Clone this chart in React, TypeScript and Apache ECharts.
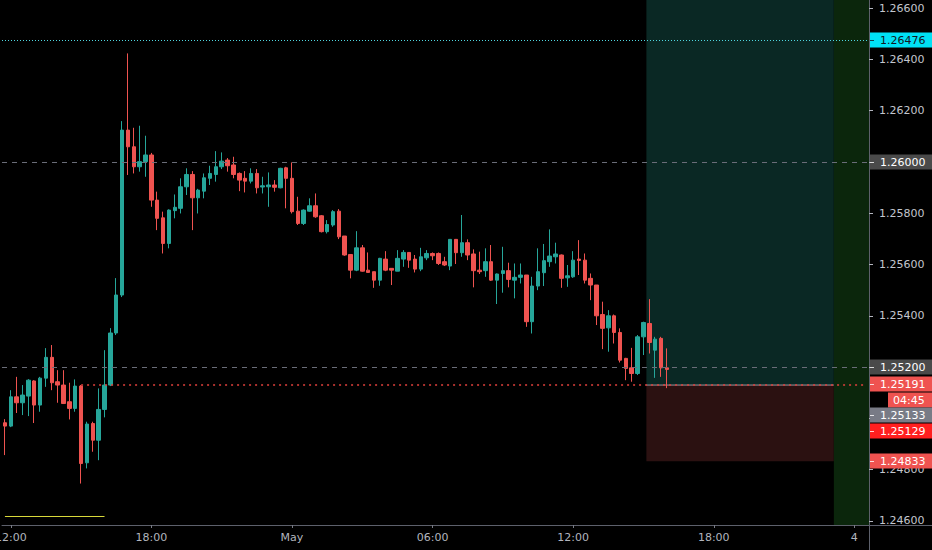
import React, { useEffect, useRef } from "react";
import * as echarts from "echarts";

// ---- data (15-minute GBP/USD candles) ----
const opens = [
  1.24983, 1.2497, 1.25084, 1.25061, 1.25087, 1.25146, 1.25052, 1.25157, 1.25238, 1.25143,
  1.2513, 1.25065, 1.25039, 1.25126, 1.24827, 1.2498, 1.24915, 1.25035, 1.2513, 1.25333,
  1.25481, 1.26124, 1.26059, 1.25981, 1.26001, 1.26027, 1.25851, 1.25782, 1.25682, 1.2581,
  1.25819, 1.25903, 1.25951, 1.2586, 1.25886, 1.25936, 1.25951, 1.25981, 1.26007, 1.25988,
  1.25955, 1.25936, 1.25925, 1.25955, 1.25902, 1.25903, 1.2591, 1.25899, 1.25977, 1.25936,
  1.25808, 1.2576, 1.25808, 1.25829, 1.2579, 1.25728, 1.25754, 1.25808, 1.25711, 1.25639,
  1.25578, 1.25665, 1.25578, 1.25572, 1.25539, 1.25621, 1.25585, 1.25574, 1.25621, 1.25647,
  1.25621, 1.25582, 1.25626, 1.25643, 1.25643, 1.25611, 1.25594, 1.25698, 1.25646, 1.25685,
  1.25641, 1.25578, 1.25576, 1.25611, 1.25539, 1.25565, 1.25576, 1.25539, 1.2555, 1.25559,
  1.25377, 1.25516, 1.25568, 1.25611, 1.2563, 1.25637, 1.25548, 1.25552, 1.25621, 1.25617,
  1.25546, 1.2552, 1.25405, 1.25353, 1.254, 1.25335, 1.25234, 1.25197, 1.25175, 1.25318,
  1.2537, 1.25266, 1.25312, 1.25197,
];
const closes = [
  1.2497, 1.25084, 1.25061, 1.25091, 1.25149, 1.25052, 1.25157, 1.25238, 1.25139, 1.2513,
  1.25058, 1.25039, 1.25126, 1.24824, 1.24978, 1.24915, 1.25035, 1.2513, 1.25333, 1.25481,
  1.26124, 1.26059, 1.25981, 1.26001, 1.26027, 1.25851, 1.2578, 1.25682, 1.25812, 1.25823,
  1.25903, 1.25951, 1.2586, 1.2589, 1.25938, 1.25955, 1.25981, 1.26003, 1.25985, 1.25951,
  1.25929, 1.25925, 1.25955, 1.25899, 1.25907, 1.2591, 1.25901, 1.25975, 1.25936, 1.25806,
  1.2576, 1.25812, 1.25829, 1.25786, 1.25728, 1.25756, 1.25806, 1.25708, 1.25637, 1.25578,
  1.25665, 1.25574, 1.25569, 1.25539, 1.25624, 1.25578, 1.25578, 1.25624, 1.25647, 1.25617,
  1.25582, 1.2563, 1.25643, 1.25634, 1.25604, 1.25598, 1.25698, 1.25646, 1.25685, 1.25637,
  1.25576, 1.25572, 1.25611, 1.25539, 1.25563, 1.25576, 1.25542, 1.2555, 1.25559, 1.25377,
  1.25516, 1.25572, 1.25615, 1.25633, 1.25641, 1.25546, 1.25556, 1.25617, 1.25616, 1.25539,
  1.2552, 1.254, 1.25351, 1.254, 1.25335, 1.25227, 1.25195, 1.25175, 1.25318, 1.25374,
  1.25296, 1.25309, 1.25197, 1.25191,
];
const highs = [
  1.24997, 1.2511, 1.25162, 1.2513, 1.25153, 1.25149, 1.25162, 1.25274, 1.25286, 1.25188,
  1.25188, 1.25139, 1.25152, 1.2513, 1.24987, 1.24987, 1.25117, 1.25266, 1.25352, 1.25547,
  1.26159, 1.26423, 1.26133, 1.26141, 1.26102, 1.26035, 1.25884, 1.25806, 1.25815, 1.25873,
  1.25936, 1.25975, 1.25964, 1.25895, 1.25955, 1.25985, 1.26042, 1.26037, 1.26015, 1.2602,
  1.25959, 1.25964, 1.25975, 1.25972, 1.25942, 1.25959, 1.25929, 1.25977, 1.25981, 1.25998,
  1.25864, 1.25815, 1.25858, 1.25877, 1.25793, 1.25773, 1.25812, 1.25816, 1.25711, 1.25639,
  1.2573, 1.25676, 1.25647, 1.25572, 1.25626, 1.25652, 1.25586, 1.25656, 1.25656, 1.25647,
  1.25637, 1.25665, 1.25656, 1.25647, 1.25647, 1.2563, 1.25698, 1.25698, 1.25793, 1.25698,
  1.25659, 1.2565, 1.25663, 1.25676, 1.25565, 1.25669, 1.25607, 1.25604, 1.25604, 1.25559,
  1.25552, 1.25663, 1.2568, 1.25737, 1.25685, 1.25639, 1.25598, 1.25652, 1.25695, 1.25643,
  1.25565, 1.2552, 1.25455, 1.25422, 1.25405, 1.25351, 1.25236, 1.25275, 1.25325, 1.25377,
  1.25465, 1.25318, 1.25318, 1.25273,
];
const lows = [
  1.24857, 1.24966, 1.25021, 1.25013, 1.25009, 1.24982, 1.25026, 1.25123, 1.2511, 1.25061,
  1.25056, 1.24996, 1.25026, 1.24746, 1.24805, 1.2487, 1.24837, 1.25004, 1.25126, 1.25325,
  1.25473, 1.25949, 1.25955, 1.25962, 1.25942, 1.25825, 1.25734, 1.25643, 1.25663, 1.2578,
  1.25799, 1.25871, 1.25734, 1.25799, 1.25858, 1.2591, 1.25923, 1.25972, 1.25962, 1.25936,
  1.25886, 1.25881, 1.25916, 1.25877, 1.25877, 1.25825, 1.25884, 1.25897, 1.25819, 1.25799,
  1.25754, 1.25754, 1.25806, 1.25782, 1.25725, 1.25721, 1.25747, 1.25699, 1.25634, 1.25546,
  1.25574, 1.25572, 1.25569, 1.25509, 1.25517, 1.25574, 1.2552, 1.25574, 1.25591, 1.25587,
  1.25569, 1.25574, 1.25617, 1.25617, 1.25598, 1.25594, 1.25578, 1.25602, 1.2563, 1.25617,
  1.25511, 1.25563, 1.25552, 1.25536, 1.25446, 1.2549, 1.25511, 1.25468, 1.25526, 1.25357,
  1.25331, 1.255, 1.25516, 1.25591, 1.25604, 1.25509, 1.25513, 1.25548, 1.25559, 1.25526,
  1.25461, 1.25364, 1.2527, 1.2526, 1.25292, 1.25218, 1.25149, 1.25143, 1.25169, 1.25247,
  1.25253, 1.25158, 1.25162, 1.25118,
];

// time slots: 15 minutes each, from 11:45 on 30 Apr; day labels at midnight
const dayLabels = ["30", "May", "4"];
const firstSlotMinutes = 11 * 60 + 45;
const slotMinutes = 15;
const slotCount = 148;

// price axis
const yTicks = [1.246, 1.248, 1.25, 1.252, 1.254, 1.256, 1.258, 1.26, 1.262, 1.264, 1.266];
const yLabelTicks = [1.246, 1.248, 1.252, 1.254, 1.256, 1.258, 1.26, 1.262, 1.264, 1.266];
const yMin = 1.245844;
const yMax = 1.266312;

// drawings
const dashedLevels = [1.26, 1.252];
const cyanLevel = 1.26476;
const rayLevel = 1.2513;
const rayStartIndex = 13;
const yellowLevel = 1.24619;
const yellowEndIndex = 17;
const positionStartIndex = 109;
const positionEndIndex = 141;
const entryPrice = 1.2513;
const stopPrice = 1.24833;

// price tags on the right scale
const tagTexts = ["1.26476", "1.26000", "1.25200", "1.25191", "04:45", "1.25133", "1.25129", "1.24833"];
const tagPrices = [1.26476, 1.26, 1.252, null, null, null, null, 1.24833];
const tagColors = ["#00e1f5", "#4a4a4a", "#4a4a4a", "#ef5350", "#ef5350", "#787b86", "#ff1f1f", "#ef5350"];

const UP = "#26a69a";
const DOWN = "#ef5350";
const FONT = "DejaVu Sans";

const categories: string[] = [];
for (let i = 0; i < slotCount; i++) {
  const m = firstSlotMinutes + slotMinutes * i;
  const day = Math.floor(m / 1440);
  const hh = Math.floor((m % 1440) / 60);
  const mm = m % 60;
  categories.push(`${dayLabels[day]} ${String(hh).padStart(2, "0")}:${String(mm).padStart(2, "0")}`);
}
const candleData = opens.map((o, i) => [o, closes[i], lows[i], highs[i]]);

export default function App() {
  const ref = useRef<HTMLDivElement>(null);
  useEffect(() => {
    document.body.style.margin = "0";
    document.body.style.background = "#000";
    const chart = echarts.init(ref.current!, null, { renderer: "svg" });
    const showTick = (index: number) => index % 24 === 1;
    chart.setOption({
      animation: false,
      backgroundColor: "#000000",
      grid: { left: 2, right: 63, top: 0, bottom: 25, containLabel: false, outerBoundsMode: "none" },
      xAxis: {
        type: "category",
        data: categories,
        boundaryGap: true,
        axisLine: { lineStyle: { color: "#5d606b", width: 1 } },
        axisTick: { show: true, alignWithLabel: true, interval: showTick, length: 3, lineStyle: { color: "#787b86" } },
        axisLabel: {
          interval: showTick,
          color: "#b2b5be",
          fontFamily: FONT,
          fontSize: 11,
          margin: 7,
          formatter: (v: string) => {
            const [d, t] = v.split(" ");
            return t === "00:00" ? d : t;
          },
        },
        splitLine: { show: false },
      },
      yAxis: {
        type: "value",
        position: "right",
        min: yMin,
        max: yMax,
        axisLine: { show: true, lineStyle: { color: "#5d606b" } },
        axisTick: { show: true, length: 4, customValues: yTicks, lineStyle: { color: "#b2b5be" } },
        axisLabel: {
          customValues: yLabelTicks,
          color: "#c3c6ce",
          fontFamily: FONT,
          fontSize: 11,
          margin: 10,
          formatter: (v: number) => v.toFixed(5),
        },
        splitLine: { show: false },
      },
      series: [
        {
          type: "candlestick",
          data: candleData,
          barWidth: 4,
          itemStyle: { color: UP, color0: DOWN, borderColor: UP, borderColor0: DOWN, borderWidth: 1 },
          markLine: {
            silent: true,
            precision: 6,
            symbol: ["none", "none"],
            label: { show: false },
            data: [
              ...dashedLevels.map((p) => ({ yAxis: p, lineStyle: { color: "#6a6d78", type: [5, 5], width: 1 } })),
              { yAxis: cyanLevel, lineStyle: { color: "#4fd6e0", type: [1, 2], width: 1 } },
              [
                { coord: [rayStartIndex, rayLevel], lineStyle: { color: "#e0403d", type: [2, 4], width: 1.5 } },
                { coord: [slotCount - 1, rayLevel] },
              ],
              [
                { coord: [0, yellowLevel], lineStyle: { color: "#d8d83a", type: "solid", width: 1 } },
                { coord: [yellowEndIndex, yellowLevel] },
              ],
            ],
          },
        },
      ],
    });

    const toPx = (i: number, p: number) => chart.convertToPixel({ gridIndex: 0 }, [i, p]) as number[];
    const band = toPx(1, 1.25)[0] - toPx(0, 1.25)[0];
    const xL = toPx(positionStartIndex, entryPrice)[0] + band / 2;
    const xR = toPx(positionEndIndex, entryPrice)[0] + band / 2;
    const yEntry = toPx(0, entryPrice)[1];
    const yStop = toPx(0, stopPrice)[1];
    const yBottom = toPx(0, yMin)[1];
    const xAxisX = toPx(slotCount - 1, yMin)[0] + band / 2;

    const stackedY = [0, 0, 0, 384, 400, 415, 431, 0];
    const elements: any[] = [
      { type: "rect", z: 0, shape: { x: xL, y: 0, width: xR - xL, height: yEntry }, style: { fill: "#0a2824" } },
      { type: "rect", z: 0, shape: { x: xL, y: yEntry, width: xR - xL, height: yStop - yEntry }, style: { fill: "#2b1111" } },
      { type: "line", z: 1, shape: { x1: xL, y1: yEntry, x2: xR, y2: yEntry }, style: { stroke: "#9598a1", lineWidth: 1 } },
      { type: "rect", z: 0, shape: { x: xR, y: 0, width: xAxisX - xR, height: yBottom }, style: { fill: "#0b260c" } },
      { type: "rect", z: 50, shape: { x: xAxisX + 0.5, y: yBottom + 0.5, width: 70, height: 30 }, style: { fill: "#000" } },
      { type: "line", z: 51, shape: { x1: xAxisX, y1: yBottom + 0.5, x2: 932, y2: yBottom + 0.5 }, style: { stroke: "#5d606b", lineWidth: 1 } },
      { type: "line", z: 51, shape: { x1: xAxisX + 0.5, y1: yBottom, x2: xAxisX + 0.5, y2: 550 }, style: { stroke: "#5d606b", lineWidth: 1 } },
    ];
    tagTexts.forEach((t, k) => {
      const p = tagPrices[k];
      const yc = p != null ? toPx(0, p)[1] : stackedY[k];
      const isTime = t.indexOf(":") >= 0;
      const x0 = isTime ? 888 : xAxisX + 1;
      const textColor = k === 0 ? "#131722" : "#ffffff";
      elements.push({
        type: "rect",
        z: 60,
        shape: { x: x0, y: Math.round(yc) - 7.5, width: 932 - x0, height: 15 },
        style: { fill: tagColors[k] },
      });
      if (!isTime) {
        elements.push({
          type: "line",
          z: 61,
          shape: { x1: xAxisX + 1, y1: Math.round(yc) + 0.5, x2: xAxisX + 5, y2: Math.round(yc) + 0.5 },
          style: { stroke: textColor, lineWidth: 1, opacity: 0.8 },
        });
      }
      elements.push({
        type: "text",
        z: 62,
        x: isTime ? 893 : xAxisX + 11,
        y: Math.round(yc) + 0.5,
        style: { text: t, fill: textColor, fontFamily: FONT, fontSize: 11, verticalAlign: "middle", align: "left" },
      });
    });
    chart.setOption({ graphic: { elements } });
    return () => chart.dispose();
  }, []);
  return <div ref={ref} style={{ width: 932, height: 550 }} />;
}
